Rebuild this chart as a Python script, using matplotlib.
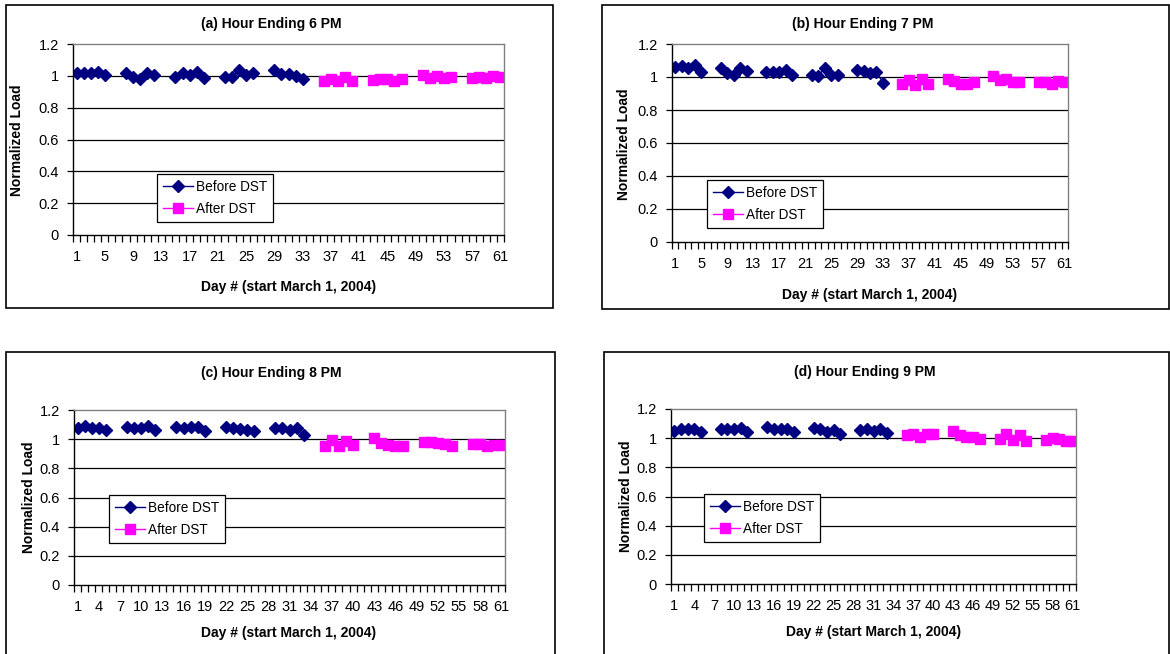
import numpy as np
import matplotlib.pyplot as plt
from matplotlib.patches import Rectangle

plt.rcParams['font.family'] = ['Liberation Sans', 'DejaVu Sans']

W, H = 1170, 654

# weekdays only (weekends left empty)
days_before = [1, 2, 3, 4, 5, 8, 9, 10, 11, 12, 15, 16, 17, 18, 19,
               22, 23, 24, 25, 26, 29, 30, 31, 32, 33]
days_after = [36, 37, 38, 39, 40, 43, 44, 45, 46, 47, 50, 51, 52, 53, 54,
              57, 58, 59, 60, 61]

before_6pm = [1.02, 1.02, 1.02, 1.025, 1.005, 1.02, 0.995, 0.98, 1.02, 1.005,
              0.99, 1.015, 1.005, 1.025, 0.985, 0.99, 0.99, 1.035, 1.005, 1.02,
              1.035, 1.01, 1.01, 1.0, 0.98]
after_6pm = [0.97, 0.98, 0.97, 0.995, 0.97, 0.975, 0.98, 0.98, 0.97, 0.98,
             1.005, 0.985, 1.0, 0.985, 0.99, 0.985, 0.99, 0.985, 1.0, 0.99]

before_7pm = [1.06, 1.065, 1.055, 1.07, 1.03, 1.055, 1.025, 1.015, 1.055, 1.035,
              1.03, 1.03, 1.03, 1.045, 1.01, 1.015, 1.005, 1.055, 1.01, 1.01,
              1.045, 1.035, 1.025, 1.03, 0.965]
after_7pm = [0.955, 0.98, 0.95, 0.985, 0.96, 0.99, 0.975, 0.96, 0.955, 0.97,
             1.005, 0.98, 0.985, 0.97, 0.97, 0.97, 0.97, 0.96, 0.975, 0.97]

before_8pm = [1.08, 1.09, 1.08, 1.08, 1.06, 1.085, 1.08, 1.08, 1.09, 1.065,
              1.085, 1.08, 1.085, 1.085, 1.055, 1.085, 1.075, 1.07, 1.065, 1.055,
              1.075, 1.08, 1.06, 1.08, 1.03]
after_8pm = [0.955, 0.995, 0.95, 0.99, 0.96, 1.01, 0.975, 0.96, 0.95, 0.955,
             0.98, 0.98, 0.975, 0.97, 0.95, 0.965, 0.965, 0.95, 0.96, 0.96]

before_9pm = [1.05, 1.065, 1.06, 1.065, 1.04, 1.06, 1.06, 1.065, 1.07, 1.045,
              1.075, 1.06, 1.065, 1.065, 1.045, 1.07, 1.06, 1.045, 1.055, 1.03,
              1.055, 1.065, 1.05, 1.065, 1.035]
after_9pm = [1.025, 1.03, 1.01, 1.03, 1.03, 1.05, 1.02, 1.005, 1.005, 0.995,
             0.995, 1.03, 0.99, 1.02, 0.98, 0.985, 1.0, 0.995, 0.98, 0.98]

titles = ['(a) Hour Ending 6 PM', '(b) Hour Ending 7 PM',
          '(c) Hour Ending 8 PM', '(d) Hour Ending 9 PM']
label_step = [4, 4, 3, 3]

series = [(before_6pm, after_6pm), (before_7pm, after_7pm),
          (before_8pm, after_8pm), (before_9pm, after_9pm)]

# pixel layout: outer box, plot area, legend corner, title/xlabel/ylabel positions
layout = [
    dict(box=(6, 5, 553, 308), area=(73, 44, 504, 235), leg=(157, 174),
         title=(271, 24), xlab=(289, 287), ylab=(17, 140)),
    dict(box=(602, 5, 1169, 309), area=(672, 44, 1068, 242), leg=(707, 180),
         title=(863, 24), xlab=(870, 295), ylab=(624, 144)),
    dict(box=(6, 352, 555, 660), area=(74, 410, 505, 585), leg=(109, 495),
         title=(271, 373), xlab=(289, 633), ylab=(29, 497)),
    dict(box=(604, 352, 1169, 660), area=(671, 409, 1076, 584), leg=(704, 494),
         title=(865, 372), xlab=(874, 632), ylab=(626, 496)),
]

x = np.arange(1, 62)


def full(days, vals):
    y = np.full(61, np.nan)
    y[np.array(days) - 1] = vals
    return y


fig = plt.figure(figsize=(W / 100, H / 100), dpi=100)
fig.patch.set_facecolor('white')

for i in range(4):
    L = layout[i]
    bx0, by0, bx1, by1 = L['box']
    fig.patches.append(Rectangle((bx0 / W, 1 - by1 / H), (bx1 - bx0) / W, (by1 - by0) / H,
                                 transform=fig.transFigure, fill=False,
                                 edgecolor='black', lw=1.2))
    l, t, r, b = L['area']
    ax = fig.add_axes([l / W, 1 - b / H, (r - l) / W, (b - t) / H])

    before, after = series[i]
    ax.plot(x, full(days_before, before), color='#000080', marker='D', ms=6,
            lw=1, label='Before DST')
    ax.plot(x, full(days_after, after), color='#FF00FF', marker='s', ms=6.5,
            lw=1, label='After DST')

    ax.set_xlim(0.5, 61.5)
    ax.set_ylim(0, 1.2)
    ax.set_yticks(np.arange(0, 1.21, 0.2))
    ax.set_yticklabels(['0', '0.2', '0.4', '0.6', '0.8', '1', '1.2'])
    for yv in np.arange(0.2, 1.01, 0.2):
        ax.axhline(yv, color='black', lw=0.9, zorder=0)

    ax.set_xticks(np.arange(1, 62, label_step[i]))
    ax.set_xticks(np.arange(0.5, 62, 1), minor=True)
    ax.tick_params(axis='x', which='major', length=0, pad=11, labelsize=10.5)
    ax.tick_params(axis='x', which='minor', length=5, width=0.9, direction='out')
    ax.tick_params(axis='y', length=4, width=0.9, pad=6, labelsize=10.5)

    for s in ['top', 'right']:
        ax.spines[s].set_color('#808080')
        ax.spines[s].set_linewidth(1.0)
    for s in ['left', 'bottom']:
        ax.spines[s].set_color('black')
        ax.spines[s].set_linewidth(1.0)

    lx, ly = L['leg']
    leg = ax.legend(loc='upper left',
                    bbox_to_anchor=((lx - l) / (r - l), (b - ly) / (b - t)),
                    borderaxespad=0, fancybox=False, framealpha=1,
                    edgecolor='black', fontsize=9.8, numpoints=1,
                    handlelength=2.2, handletextpad=0.2, labelspacing=0.55,
                    borderpad=0.45)
    leg.get_frame().set_linewidth(0.9)

    tx, ty = L['title']
    fig.text(tx / W, 1 - ty / H, titles[i], ha='center', va='center',
             fontsize=10, fontweight='bold')
    xx, xy = L['xlab']
    fig.text(xx / W, 1 - xy / H, 'Day # (start March 1, 2004)', ha='center',
             va='center', fontsize=10, fontweight='bold')
    yx, yy = L['ylab']
    fig.text(yx / W, 1 - yy / H, 'Normalized Load', ha='center', va='center',
             rotation=90, fontsize=10, fontweight='bold')

fig.savefig('out.png', dpi=100)
